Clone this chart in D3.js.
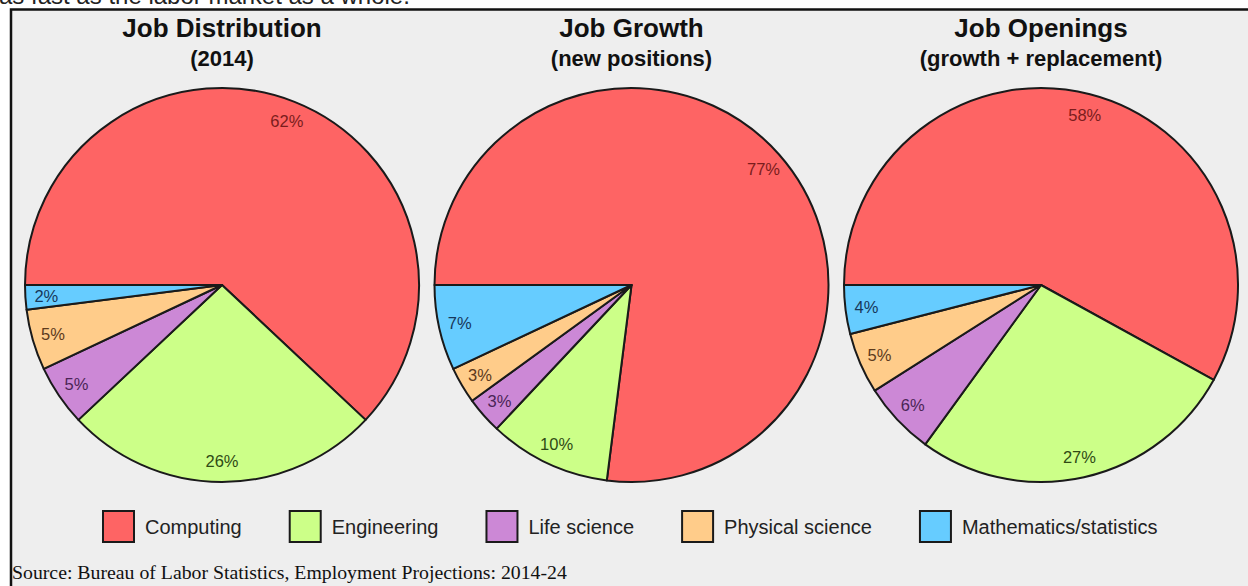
<!DOCTYPE html>
<html>
<head>
<meta charset="utf-8">
<script src="https://cdn.jsdelivr.net/npm/d3@7"></script>
<style>
  html, body { margin: 0; padding: 0; background: #ffffff; }
  svg { display: block; }
</style>
</head>
<body>
<svg id="chart" width="1248" height="586"></svg>
<script>
// ---- Data ----
const categories = ["Computing", "Engineering", "Life science", "Physical science", "Mathematics/statistics"];
const titles = ["Job Distribution", "Job Growth", "Job Openings"];
const subtitles = ["(2014)", "(new positions)", "(growth + replacement)"];
const distribution2014 = [62, 26, 5, 5, 2];
const growthNew = [77, 10, 3, 3, 7];
const openings = [58, 27, 6, 5, 4];
const sourceNote = "Source: Bureau of Labor Statistics, Employment Projections: 2014-24";
const clippedHeader = "as fast as the labor market as a whole.";

// ---- Styles ----
const fillColors = ["#fe6464", "#ccff88", "#cc88d6", "#ffcc8a", "#66ccff"];
const labelColors = ["#7a1c1c", "#2f4a14", "#4a2455", "#5c3a1c", "#17375a"];

const svg = d3.select("#chart");

// clipped header text at the very top (only its lower part shows)
svg.append("text")
  .attr("x", -1).attr("y", 4)
  .attr("font-family", "Liberation Sans, Arial, sans-serif")
  .attr("font-size", 24)
  .attr("fill", "#222")
  .text(clippedHeader);

// panel background with border (extends beyond right/bottom edges)
svg.append("rect")
  .attr("x", 11).attr("y", 9.5)
  .attr("width", 1300).attr("height", 700)
  .attr("fill", "#eeeeee")
  .attr("stroke", "#111")
  .attr("stroke-width", 2.5);

const series = [distribution2014, growthNew, openings];
const centers = d3.scalePoint().domain(d3.range(series.length)).range([222, 1041]);
const cy = 285, R = 197, labelR = 176;

const pie = d3.pie().sort(null).value(d => d.v).startAngle(-Math.PI / 2).endAngle(1.5 * Math.PI);
const arc = d3.arc().innerRadius(0).outerRadius(R);
const labelArc = d3.arc().innerRadius(labelR).outerRadius(labelR);
const color = d3.scaleOrdinal().domain(categories).range(fillColors);
const lcolor = d3.scaleOrdinal().domain(categories).range(labelColors);

series.forEach((vals, i) => {
  const cx = centers(i);
  const g = svg.append("g").attr("transform", `translate(${cx},${cy})`);
  const data = pie(vals.map((v, k) => ({ c: categories[k], v })));
  g.selectAll("path.slice").data(data).join("path")
    .attr("class", "slice")
    .attr("d", arc)
    .attr("fill", d => color(d.data.c))
    .attr("stroke", "#1a1a1a")
    .attr("stroke-width", 2)
    .attr("stroke-linejoin", "round");
  g.selectAll("text.lbl").data(data).join("text")
    .attr("class", "lbl")
    .attr("transform", d => `translate(${labelArc.centroid(d)})`)
    .attr("text-anchor", "middle")
    .attr("dominant-baseline", "central")
    .attr("font-family", "Liberation Sans, Arial, sans-serif")
    .attr("font-size", 16.5)
    .attr("fill", d => lcolor(d.data.c))
    .text(d => d.data.v + "%");

  svg.append("text")
    .attr("x", cx).attr("y", 37)
    .attr("text-anchor", "middle")
    .attr("font-family", "Liberation Sans, Arial, sans-serif")
    .attr("font-weight", "bold")
    .attr("font-size", 26)
    .attr("fill", "#111")
    .text(titles[i]);
  svg.append("text")
    .attr("x", cx).attr("y", 66)
    .attr("text-anchor", "middle")
    .attr("font-family", "Liberation Sans, Arial, sans-serif")
    .attr("font-weight", "bold")
    .attr("font-size", 22)
    .attr("fill", "#111")
    .text(subtitles[i]);
});

// ---- Legend ----
const legend = svg.append("g");
let lx = 103;
const sq = 31, ly = 511;
categories.forEach((c, k) => {
  const item = legend.append("g").attr("transform", `translate(${lx},${ly})`);
  item.append("rect")
    .attr("x", 0).attr("y", 0).attr("width", sq).attr("height", sq)
    .attr("fill", color(c)).attr("stroke", "#1a1a1a").attr("stroke-width", 2);
  const t = item.append("text")
    .attr("x", sq + 11).attr("y", sq / 2)
    .attr("dominant-baseline", "central")
    .attr("font-family", "Liberation Sans, Arial, sans-serif")
    .attr("font-size", 20)
    .attr("fill", "#222")
    .text(c);
  lx += sq + 11 + t.node().getComputedTextLength() + 48;
});

// ---- Source ----
svg.append("text")
  .attr("x", 12).attr("y", 579)
  .attr("font-family", "Liberation Serif, Times New Roman, serif")
  .attr("font-size", 19.8)
  .attr("fill", "#111")
  .text(sourceNote);
</script>
</body>
</html>
